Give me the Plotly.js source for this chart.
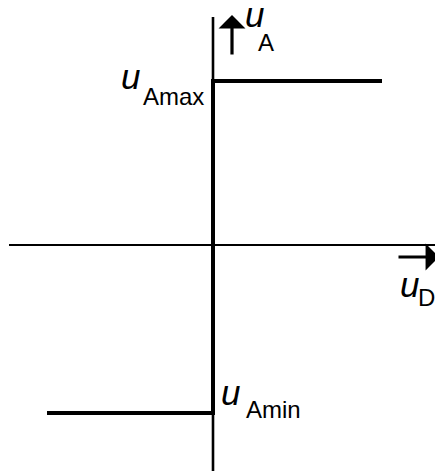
<!DOCTYPE html>
<html>
<head>
<meta charset="utf-8">
<script src="https://cdn.plot.ly/plotly-3.0.1.min.js"></script>
<style>
  html, body { margin: 0; padding: 0; background: #fff; }
  #chart { width: 435px; height: 471px; }
</style>
</head>
<body>
<div id="chart"></div>
<script>
// Ideal comparator transfer characteristic: u_A against u_D
const uD = [-1.66, 0, 0, 1.69];          // input voltage breakpoints
const uA = [-1.68, -1.68, 1.64, 1.64];   // output: u_Amin below zero, u_Amax above

// Coordinate axes
const axisX = [-2.04, 2.22];
const axisY = [-2.26, 2.28];

// Axis labels: main letter + subscript
const labels = [
  { main: 'u', sub: 'A' },
  { main: 'u', sub: 'D' },
  { main: 'u', sub: 'Amax' },
  { main: 'u', sub: 'Amin' }
];

const FONT = 'Liberation Sans, Arial, sans-serif';
const MAIN_SIZE = 35;
const SUB_SIZE = 24;

const traces = [
  { x: axisX, y: [0, 0], mode: 'lines', line: { color: '#000', width: 2 }, hoverinfo: 'skip' },
  { x: [0, 0], y: axisY, mode: 'lines', line: { color: '#000', width: 2.6 }, hoverinfo: 'skip' },
  { x: uD, y: uA, mode: 'lines', line: { color: '#000', width: 4 }, hoverinfo: 'skip' }
];

// label anchor points (data units; main letter left/bottom, subscript offset)
const pos = [
  { mx: 0.30, my: 2.09, sx: 0.43, sy: 1.87 },   // u_A
  { mx: 1.85, my: -0.61, sx: 2.03, sy: -0.68 }, // u_D
  { mx: -0.94, my: 1.47, sx: -0.72, sy: 1.33 }, // u_Amax
  { mx: 0.06, my: -1.69, sx: 0.31, sy: -1.80 }  // u_Amin
];

const annotations = [];
labels.forEach((lab, i) => {
  const p = pos[i];
  annotations.push({
    x: p.mx, y: p.my, xref: 'x', yref: 'y', showarrow: false,
    text: '<i>' + lab.main + '</i>', xanchor: 'left', yanchor: 'bottom',
    font: { family: FONT, size: MAIN_SIZE, color: '#000' }
  });
  annotations.push({
    x: p.sx, y: p.sy, xref: 'x', yref: 'y', showarrow: false,
    text: lab.sub, xanchor: 'left', yanchor: 'bottom',
    font: { family: FONT, size: SUB_SIZE, color: '#000' }
  });
});

// direction arrows next to the axis labels
annotations.push({
  x: 0.19, y: 2.30, ax: 0.19, ay: 1.89, xref: 'x', yref: 'y', axref: 'x', ayref: 'y',
  showarrow: true, arrowhead: 1, arrowsize: 1.4, arrowwidth: 3.2, arrowcolor: '#000', text: ''
});
annotations.push({
  x: 2.26, y: -0.12, ax: 1.84, ay: -0.12, xref: 'x', yref: 'y', axref: 'x', ayref: 'y',
  showarrow: true, arrowhead: 1, arrowsize: 1.4, arrowwidth: 3.2, arrowcolor: '#000', text: ''
});

const layout = {
  width: 435, height: 471,
  margin: { l: 0, r: 0, t: 0, b: 0 },
  paper_bgcolor: '#fff', plot_bgcolor: '#fff',
  showlegend: false,
  xaxis: { range: [-2.13, 2.22], visible: false, fixedrange: true },
  yaxis: { range: [-2.26, 2.45], visible: false, fixedrange: true },
  annotations: annotations
};

Plotly.newPlot('chart', traces, layout, { staticPlot: true, displayModeBar: false });
</script>
</body>
</html>
